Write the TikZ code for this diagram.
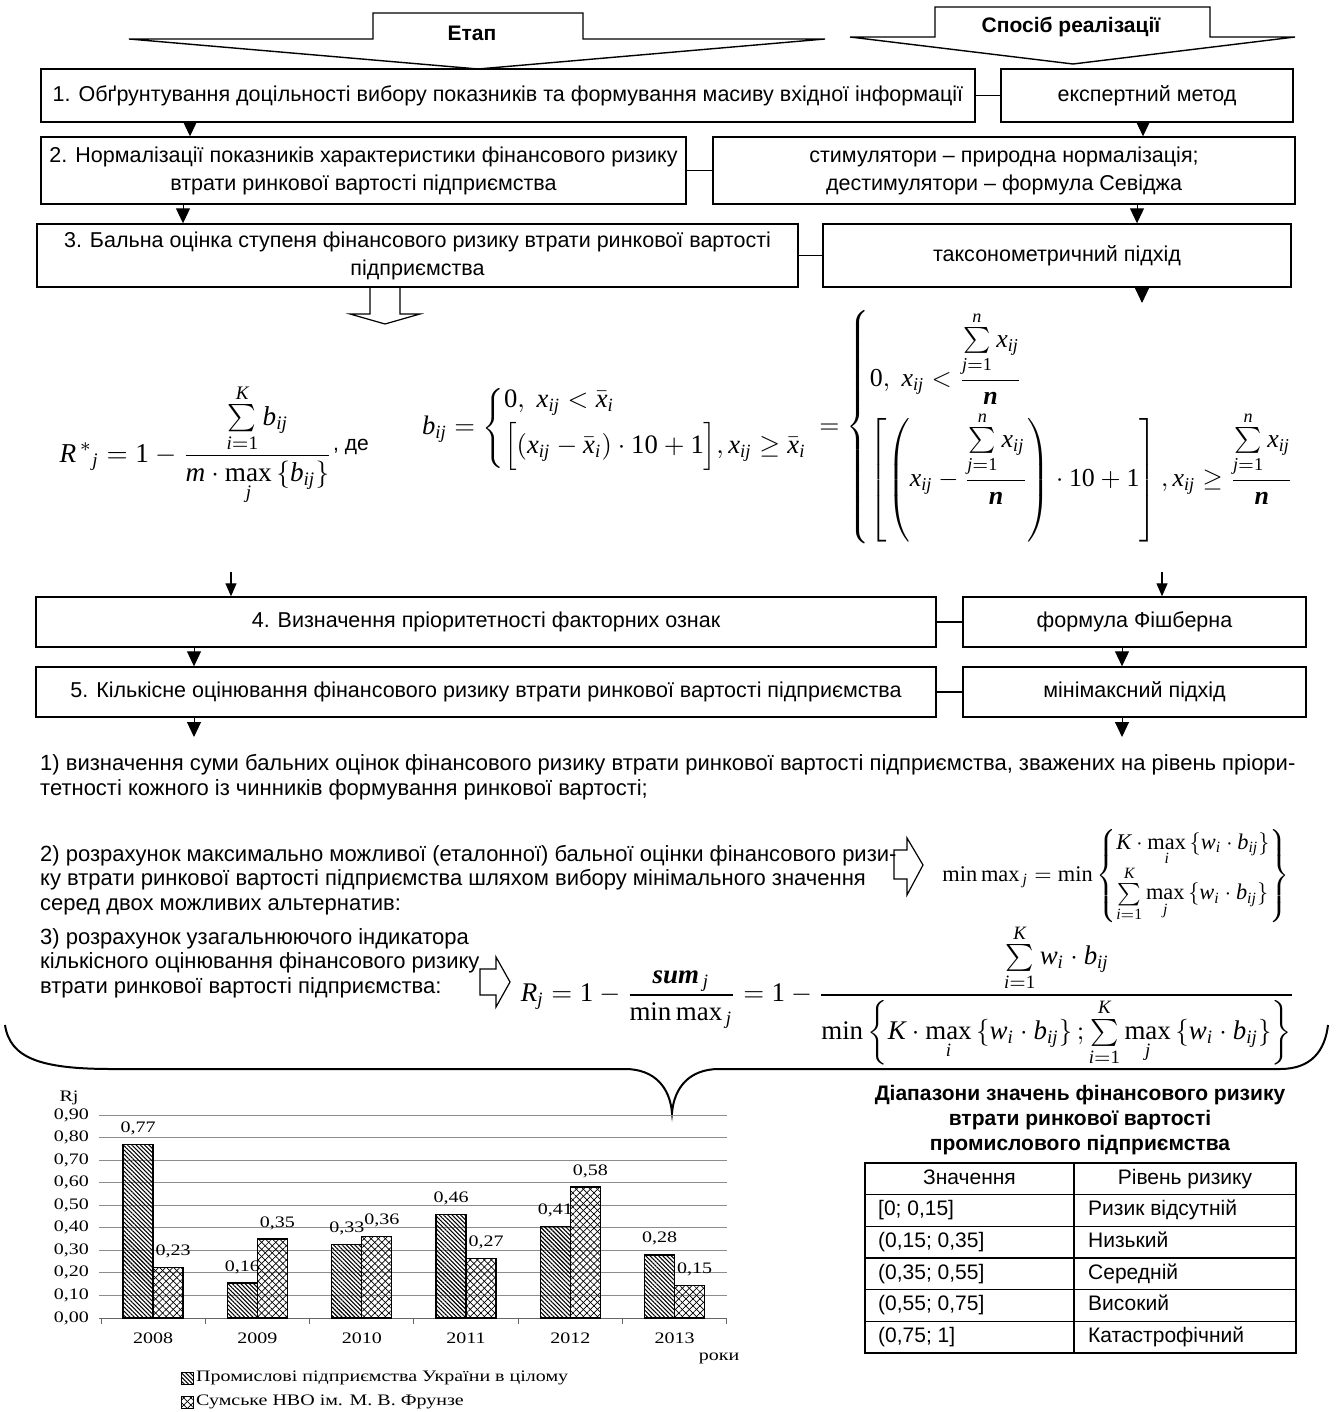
\documentclass[tikz,border=0pt]{standalone}
\usepackage{amsmath}
\usepackage{graphicx}
\usepackage[no-math]{fontspec}
\setmainfont{Liberation Sans}
\newfontfamily\chartfont[FakeStretch=1.25]{Liberation Serif}
\newfontfamily\tms{Liberation Serif}
\usetikzlibrary{arrows.meta,patterns.meta}
\newcommand{\bxf}{\fontsize{21.5}{28}\selectfont}
\newcommand{\itf}{\fontsize{22}{24.5}\selectfont}
\newcommand{\chf}{\chartfont\fontsize{16}{18}\selectfont}
\newcommand{\mytbf}{\fontsize{21}{25}\selectfont}
\newcommand\qi[1]{\text{\tms\itshape #1}}
\newcommand\qu[1]{\text{\tms #1}}
\newcommand\qb[1]{\text{\tms\bfseries\itshape #1}}
\newcommand\qmax{\mathop{\qu{max}}\limits}
\newcommand\qmin{\mathop{\qu{min}}}
\newcommand\qx{\qi{x}_{\qi{ij}}}
\newcommand\qs{\sum\limits_{\qi{j}=\qu{1}}^{\qi{n}}\qx}
\newcommand\qwb{\qi{w}_{\qi{i}}\cdot \qi{b}_{\qi{ij}}}
\newcommand\qxb{\bar{\qi{x}}_{\qi{i}}}
\begin{document}
\begin{tikzpicture}[x=1pt,y=-1pt,
  box/.style={draw, line width=1.4pt, inner sep=0pt, align=center, font=\bxf},
  conn/.style={line width=1.4pt},
  tri/.style={line width=1pt, -{Triangle[width=14pt,length=15pt]}},
  tri2/.style={line width=1.3pt, -{Triangle[width=11pt,length=13pt]}},
  hol/.style={draw, line width=1.2pt, line join=miter},
  banner/.style={draw, line width=1.4pt, line join=miter},
  head/.style={font=\bfseries\fontsize{21}{24}\selectfont, inner sep=0pt},
  itemtxt/.style={align=left, font=\itf, inner sep=0pt},
  formula/.style={inner sep=0pt},
  chl/.style={font=\chf, inner sep=0pt},
  gridl/.style={line width=0.9pt, draw=black!45},
  axisl/.style={line width=0.9pt, draw=black!60},
  barl/.style={line width=1.4pt},
  darkpat/.style={pattern={Lines[angle=-45,distance=3pt,line width=1.1pt]}},
  lightpatA/.style={pattern={Lines[angle=45,distance=5pt,line width=0.7pt]}},
  lightpatB/.style={pattern={Lines[angle=-45,distance=5pt,line width=0.7pt]}},
  tabl/.style={line width=1.5pt},
  tcell/.style={font=\mytbf, inner sep=0pt, text height=15pt, text depth=4.5pt},
  bracel/.style={line width=2pt}
]
\useasboundingbox (0,0) rectangle (1335,1412);

% ---------- header banners ----------
\draw[banner] (129,39) -- (373,39) -- (373,13) -- (583,13) -- (583,39) -- (825,39) -- (478,69) -- cycle;
\node[head] (etap) at (472,33) {Етап};
\draw[banner] (850,37) -- (935,37) -- (935,7) -- (1210,7) -- (1210,37) -- (1295,37) -- (1073,64) -- cycle;
\node[head] (spos) at (1071,27) {Спосіб реалізації};

% ---------- boxes ----------
\node[box, minimum width=934pt, minimum height=53pt] (b1) at (508,95.5)
  {1. Обґрунтування доцільності вибору показників та формування масиву вхідної інформації};
\node[box, minimum width=292pt, minimum height=53pt] (r1) at (1147,95.5) {експертний метод};
\node[box, minimum width=645pt, minimum height=67pt] (b2) at (363.5,170.5)
  {2. Нормалізації показників характеристики фінансового ризику\\втрати ринкової вартості підприємства};
\node[box, minimum width=582pt, minimum height=67pt] (r2) at (1004,170.5)
  {стимулятори – природна нормалізація;\\дестимулятори – формула Севіджа};
\node[box, minimum width=761pt, minimum height=63pt] (b3) at (417.5,255.5)
  {3. Бальна оцінка ступеня фінансового ризику втрати ринкової вартості\\підприємства};
\node[box, minimum width=468pt, minimum height=63pt] (r3) at (1057,255.5) {таксонометричний підхід};
\node[box, minimum width=900pt, minimum height=50pt] (b4) at (486,622)
  {4. Визначення пріоритетності факторних ознак};
\node[box, minimum width=343pt, minimum height=50pt] (r4) at (1134.5,622) {формула Фішберна};
\node[box, minimum width=900pt, minimum height=50pt] (b5) at (486,692)
  {5. Кількісне оцінювання фінансового ризику втрати ринкової вартості підприємства};
\node[box, minimum width=343pt, minimum height=50pt] (r5) at (1134.5,692) {мінімаксний підхід};

% ---------- connectors ----------
\draw[conn] (b1.east) -- (r1.west);
\draw[conn] (b2.east) -- (r2.west);
\draw[conn] (b3.east) -- (r3.west);
\draw[conn] (b4.east) -- (r4.west);
\draw[conn] (b5.east) -- (r5.west);

\draw[tri] (190,0 |- b1.south) -- (190,0 |- b2.north);
\draw[tri] (1143,0 |- r1.south) -- (1143,0 |- r2.north);
\draw[tri] (183,0 |- b2.south) -- (183,0 |- b3.north);
\draw[tri] (1137,0 |- r2.south) -- (1137,0 |- r3.north);
\coordinate (f1) at (1142,303);
\draw[tri] (1142,0 |- r3.south) -- (f1);

% hollow arrow below step 3
\draw[hol] (370,0 |- b3.south) -- (370,314) -- (350,314) -- (385,324) -- (420,314) -- (400,314) -- (400,0 |- b3.south);

% ---------- formulas of step 3 ----------
\node[formula] (fr) at (196,445) {\resizebox{273pt}{!}{$\displaystyle \qi{R}^{\,*}{}_{\qi{j}}=\qu{1}-\frac{\sum\limits_{\qi{i}=\qu{1}}^{\qi{K}} \qi{b}_{\qi{ij}}}{\qi{m}\cdot \qmax_{\qi{j}}\left\{\qi{b}_{\qi{ij}}\right\}}$}};
\node[anchor=west, inner sep=0pt, font=\fontsize{21}{24}\selectfont] (de) at (333,447) {, де};
\node[formula] (fb1) at (615.5,428) {\resizebox{387pt}{!}{$\displaystyle \qi{b}_{\qi{ij}}=\left\{\begin{array}{@{}l@{}}\qu{0},\ \qx<\qxb\\[2pt] \Bigl[\left(\qx-\qxb\right)\cdot \qu{10}+\qu{1}\Bigr], \qx\ge \qxb\end{array}\right.$}};
\node[formula] (fb2) at (1058,427) {\resizebox{477pt}{!}{$\displaystyle =\left\{\begin{array}{@{}l@{}}
 \qu{0},\ \qx<\dfrac{\qs}{\qb{n}}\\[6pt]
 \left[\left(\qx-\dfrac{\qs}{\qb{n}}\right)\cdot \qu{10}+\qu{1}\right], \qx\ge\dfrac{\qs}{\qb{n}}
 \end{array}\right.$}};

% arrows into step 4
\coordinate (s4) at (231,572);
\coordinate (s4r) at (1162,572);
\draw[tri2] (s4) -- (231,0 |- b4.north);
\draw[tri2] (s4r) -- (1162,0 |- r4.north);
\draw[tri] (194,0 |- b4.south) -- (194,0 |- b5.north);
\draw[tri] (1122,0 |- r4.south) -- (1122,0 |- r5.north);
\coordinate (e5) at (194,737);
\coordinate (e5r) at (1122,737);
\draw[tri] (194,0 |- b5.south) -- (e5);
\draw[tri] (1122,0 |- r5.south) -- (e5r);

% ---------- items ----------
\node[itemtxt, anchor=west] (it1) at (40,777)
  {1) визначення суми бальних оцінок фінансового ризику втрати ринкової вартості підприємства, зважених на рівень пріори-\\тетності кожного із чинників формування ринкової вартості;};
\node[itemtxt, anchor=west] (it2) at (40,880)
  {2) розрахунок максимально можливої (еталонної) бальної оцінки фінансового ризи-\\ку втрати ринкової вартості підприємства шляхом вибору мінімального значення\\серед двох можливих альтернатив:};
\node[itemtxt, anchor=west] (it3) at (40,963)
  {3) розрахунок узагальнюючого індикатора\\кількісного оцінювання фінансового ризику\\втрати ринкової вартості підприємства:};

\draw[hol] (894,850) -- (907,850) -- (907,838) -- (923,865) -- (907,895) -- (907,879) -- (894,879) -- cycle;
\draw[hol] (480,969) -- (496,969) -- (496,957) -- (510,982) -- (496,1007) -- (496,995) -- (480,995) -- cycle;

\node[formula] (fmm) at (1116,876) {\resizebox{347pt}{!}{$\displaystyle \qu{min\,max}_{\,\qi{j}}=\qmin\left\{\begin{array}{@{}l@{}}
 \qi{K}\cdot\qmax_{\qi{i}}\left\{\qwb\right\}\\[4pt]
 \sum\limits_{\qi{i}=\qu{1}}^{\qi{K}}\qmax_{\qi{j}}\left\{\qwb\right\}\end{array}\right\}$}};
\node[formula] (frj) at (908,995) {\resizebox{774pt}{!}{$\displaystyle \qi{R}_{\qi{j}}=\qu{1}-\frac{\qb{sum}_{\,\qi{j}}}{\qu{min\,max}_{\,\qi{j}}}=\qu{1}-\frac{\sum\limits_{\qi{i}=\qu{1}}^{\qi{K}}\qwb}{\qmin\left\{\qi{K}\cdot\qmax_{\qi{i}}\left\{\qwb\right\};\sum\limits_{\qi{i}=\qu{1}}^{\qi{K}}\qmax_{\qi{j}}\left\{\qwb\right\}\right\}}$}};

% ---------- brace ----------
\draw[bracel] (5,1025) .. controls (10,1058) and (40,1069) .. (112,1069) -- (625,1069)
  .. controls (655,1069) and (670,1088) .. (672,1113)
  .. controls (674,1088) and (689,1069) .. (719,1069) -- (1280,1069)
  .. controls (1312,1069) and (1325,1050) .. (1328,1025);

% ---------- chart ----------
\node[chl] (rj) at (69,1098) {Rj};
\foreach \i in {1,...,9} \draw[gridl] (99,{1318-22.56*\i}) -- (727,{1318-22.56*\i});
\foreach \i in {0,...,9} \node[chl, anchor=east] (yl\i) at (89,{1318-22.56*\i}) {0,\i0};
\draw[axisl] (99,1318) -- (727,1318);
\foreach \k in {0,...,6} \draw[axisl] ({101+104.3*\k},1318) -- ({101+104.3*\k},1324);
\foreach \k/\yr in {0/2008,1/2009,2/2010,3/2011,4/2012,5/2013}
  \node[chl] (yr\k) at ({101+104.3*(\k+0.5)},1338) {\yr};
\foreach \k/\a/\b/\la/\lb in {0/0.77/0.225/77/23,1/0.155/0.35/16/35,2/0.325/0.36/33/36,3/0.46/0.265/46/27,4/0.405/0.58/41/58,5/0.28/0.145/28/15}{
  \pgfmathsetmacro\cx{101+104.3*(\k+0.5)}
  \pgfmathsetmacro\ya{1318-225.6*\a}
  \pgfmathsetmacro\yb{1318-225.6*\b}
  \fill[darkpat] ({\cx-30},1318) rectangle (\cx,\ya);
  \draw[barl] ({\cx-30},1318) rectangle (\cx,\ya);
  \fill[lightpatA] (\cx,1318) rectangle ({\cx+30},\yb);
  \fill[lightpatB] (\cx,1318) rectangle ({\cx+30},\yb);
  \draw[barl] (\cx,1318) rectangle ({\cx+30},\yb);
  \node[chl] (la\k) at ({\cx-15},{\ya-16}) {0,\la};
  \node[chl] (lb\k) at ({\cx+20},{\yb-16}) {0,\lb};
}
\node[chl] (roky) at (719,1358) {роки};
\fill[darkpat] (181,1372) rectangle (193,1384);
\draw[line width=0.8pt] (181,1372) rectangle (193,1384);
\node[chl, anchor=west] (lg1) at (196,1378) {Промислові підприємства України в цілому};
\fill[lightpatA] (181,1396) rectangle (193,1408);
\fill[lightpatB] (181,1396) rectangle (193,1408);
\draw[line width=0.8pt] (181,1396) rectangle (193,1408);
\node[chl, anchor=west] (lg2) at (196,1402) {Сумське НВО ім. М. В. Фрунзе};

% ---------- table ----------
\node[align=center, inner sep=0pt, font=\bfseries\mytbf] (ttl) at (1080,1120)
  {Діапазони значень фінансового ризику\\втрати ринкової вартості\\промислового підприємства};
\draw[tabl] (865,1163) rectangle (1296,1353);
\draw[tabl] (1074,1163) -- (1074,1353);
\foreach \r in {1,...,5} \draw[tabl] (865,{1163+31.67*\r}) -- (1296,{1163+31.67*\r});
\node[tcell] (th1) at (969.5,1178.8) {Значення};
\node[tcell] (th2) at (1185,1178.8) {Рівень ризику};
\foreach \r/\va/\vb in {1/{[0; 0,15]}/{Ризик відсутній},2/{(0,15; 0,35]}/{Низький},3/{(0,35; 0,55]}/{Середній},4/{(0,55; 0,75]}/{Високий},5/{(0,75; 1]}/{Катастрофічний}}{
  \node[tcell, anchor=west] (tv\r) at (878,{1163+31.67*(\r+0.5)}) {\va};
  \node[tcell, anchor=west] (tl\r) at (1088,{1163+31.67*(\r+0.5)}) {\vb};
}
\end{tikzpicture}
\end{document}
